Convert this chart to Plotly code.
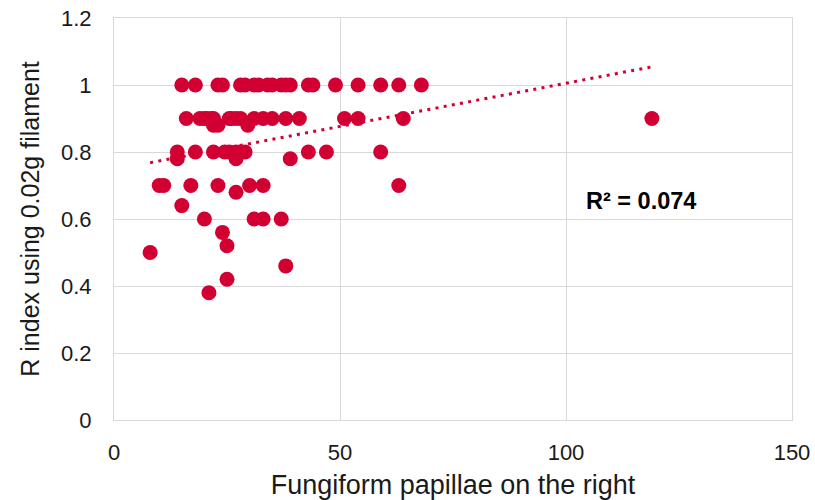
import numpy as np
import plotly.graph_objects as go

x_vals = [15, 18, 23, 24, 28, 29, 31, 32, 34, 35, 37, 38, 39, 43, 44, 49, 54, 59, 63, 68,
          16, 19, 20, 20.5, 21.5, 22, 25.5, 26, 27, 28, 31, 33, 35, 38, 41, 51, 54, 64, 119,
          22, 23, 29.6,
          14, 18, 22, 24.5, 25.5, 27, 28, 29, 43, 47, 59,
          14, 27, 39,
          10, 11, 17, 23, 30, 33, 63,
          27, 15,
          20, 31, 33, 37,
          24, 25, 8, 38, 25, 21]
y_vals = [1.0] * 20 + [0.9] * 19 + [0.88] * 3 + [0.8] * 11 + [0.78] * 3 + [0.7] * 7 + \
         [0.68, 0.64] + [0.6] * 4 + [0.56, 0.52, 0.5, 0.46, 0.42, 0.38]

x_ticks = [0, 50, 100, 150]
y_ticks = [0, 0.2, 0.4, 0.6, 0.8, 1.0, 1.2]
y_tick_text = ["0", "0.2", "0.4", "0.6", "0.8", "1", "1.2"]

xa = np.array(x_vals, dtype=float)
ya = np.array(y_vals, dtype=float)
slope, intercept = np.polyfit(xa, ya, 1)
tx = np.array([xa.min(), xa.max()])
ty = slope * tx + intercept

red = "#D20032"
txt = "#1a1a1a"
grid = "#D9D9D9"
fig = go.Figure()
fig.add_trace(go.Scatter(x=tx, y=ty, mode="lines",
                         line=dict(color=red, width=3, dash="3px,5.3px"), hoverinfo="skip"))
fig.add_trace(go.Scatter(x=x_vals, y=y_vals, mode="markers",
                         marker=dict(color=red, size=15, line=dict(width=0))))

fig.add_annotation(x=116.5, y=0.655, text="<b>R² = 0.074</b>", showarrow=False,
                   font=dict(size=23.5, color="#000000", family="Liberation Sans"))

fig.update_layout(
    width=815, height=500, showlegend=False,
    margin=dict(l=114, r=23, t=18, b=80),
    plot_bgcolor="white", paper_bgcolor="white",
    font=dict(family="Liberation Sans", color=txt),
    xaxis=dict(range=[0, 150], tickvals=x_ticks, showgrid=True, gridcolor=grid, gridwidth=1,
               zeroline=False, showline=True, linecolor=grid, mirror=True, automargin=False,
               tickfont=dict(size=22, color=txt),
               ticks="outside", ticklen=13, tickcolor="rgba(0,0,0,0)",
               title=dict(text="Fungiform papillae on the right", font=dict(size=27, color=txt),
                          standoff=11)),
    yaxis=dict(range=[0, 1.2], tickvals=y_ticks, ticktext=y_tick_text, showgrid=True,
               gridcolor=grid, gridwidth=1, zeroline=False, showline=True, linecolor=grid, mirror=True,
               automargin=False,
               tickfont=dict(size=22, color=txt),
               ticks="outside", ticklen=17, tickcolor="rgba(0,0,0,0)",
               title=dict(text="R index using 0.02g filament", font=dict(size=25, color=txt),
                          standoff=14)),
)
fig.write_html("out.html")
